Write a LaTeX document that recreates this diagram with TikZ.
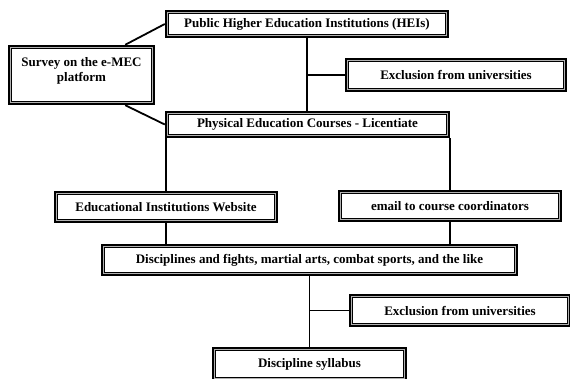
\documentclass[tikz,border=0pt]{standalone}
\usepackage{fontspec}
\setmainfont{Liberation Serif}

\tikzset{
	dblbox/.style={draw=black, line width=2.4pt, fill=white, inner sep=0pt, align=center,
		font=\bfseries\fontsize{13}{15}\selectfont,
		path picture={
			\draw[gray!60, line width=0.8pt] ([shift={(1.6pt,-1.6pt)}]path picture bounding box.north west) rectangle ([shift={(-1.6pt,1.6pt)}]path picture bounding box.south east);
			\draw[black, line width=0.8pt] ([shift={(2.4pt,-2.4pt)}]path picture bounding box.north west) rectangle ([shift={(-2.4pt,2.4pt)}]path picture bounding box.south east);
		}},
	link/.style={draw=black, line width=1.8pt}
}

\begin{document}
\begin{tikzpicture}[x=1pt, y=-1pt]
	\useasboundingbox (0,0) rectangle (570,378);

	\node[dblbox, minimum width=282pt, minimum height=26pt] (hei) at (307, 24) {Public Higher Education Institutions (HEIs)};
	\node[dblbox, minimum width=145pt, minimum height=58pt] (survey) at (81.5, 75) {Survey on the e-MEC\\platform\\[-8pt]\strut};
	\node[dblbox, minimum width=220pt, minimum height=32pt] (excla) at (456, 75) {Exclusion from universities};
	\node[dblbox, minimum width=283pt, minimum height=25pt] (phys) at (307.5, 124.5) {Physical Education Courses - Licentiate};
	\node[dblbox, minimum width=222pt, minimum height=30pt] (site) at (166, 207) {Educational Institutions Website};
	\node[dblbox, minimum width=222pt, minimum height=30pt] (email) at (450, 206) {email to course coordinators};
	\node[dblbox, minimum width=415pt, minimum height=30pt] (disc) at (309.5, 260) {Disciplines and fights, martial arts, combat sports, and the like};
	\node[dblbox, minimum width=220pt, minimum height=31pt] (exclb) at (460, 310.5) {Exclusion from universities};
	\node[dblbox, minimum width=193pt, minimum height=32pt] (syll) at (309.5, 364) {Discipline syllabus};

	\path [link] ([xshift=-30pt]survey.north east) edge (hei.west);
	\path [link] ([xshift=-30pt]survey.south east) edge (phys.west);
	\path [link] (hei.south) edge (hei.south |- phys.north);
	\path [link] (hei.south |- excla.west) edge (excla.west);
	\path [link] (site.north |- phys.south) edge (site.north);
	\path [link] (email.north |- phys.south) edge (email.north);
	\path [link] (site.south) edge (site.south |- disc.north);
	\path [link] (email.south) edge (email.south |- disc.north);
	\path [link] (disc.south) edge (syll.north);
	\path [link] (disc.south |- exclb.west) edge (exclb.west);
\end{tikzpicture}
\end{document}
